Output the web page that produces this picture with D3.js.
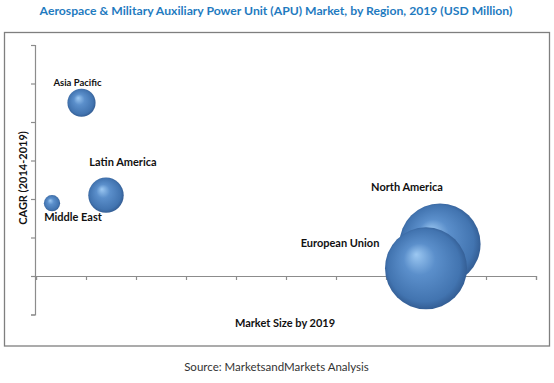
<!DOCTYPE html>
<html><head><meta charset="utf-8">
<script src="https://cdn.jsdelivr.net/npm/d3@7"></script>
<style>
body{margin:0;background:#fff;}
text{font-family:Lato,"Open Sans",sans-serif;}
</style></head>
<body><svg id="c" width="554" height="383"></svg>
<script>
const regions = ["Asia Pacific","Latin America","Middle East","North America","European Union"];
const marketSize = [0.91, 1.4, 0.32, 8.08, 7.8];
const cagr = [4.5, 2.1, 1.89, 0.83, 0.2];
const bubbleSize = [120, 190, 40, 1000, 1020];
const xTicks = d3.range(0, 11);
const yTicks = d3.range(-1, 7);

const labelOffset = {
  "Asia Pacific":[-4,-17,9.5],
  "Latin America":[17,-29,11],
  "Middle East":[21,18,11],
  "North America":[-33,-53,11],
  "European Union":[-86,-21,11]
};

const svg = d3.select("#c");
const defs = svg.append("defs");
const g = defs.append("radialGradient").attr("id","ball")
  .attr("cx","50%").attr("cy","50%").attr("r","55%")
  .attr("fx","38%").attr("fy","33%");
g.append("stop").attr("offset","0%").attr("stop-color","#9cc8f2");
g.append("stop").attr("offset","35%").attr("stop-color","#5b8fcb");
g.append("stop").attr("offset","80%").attr("stop-color","#4274b0");
g.append("stop").attr("offset","100%").attr("stop-color","#2c5286");

svg.append("rect").attr("x",4.5).attr("y",32.5).attr("width",545).attr("height",313.5)
  .attr("fill","none").attr("stroke","#7f7f7f").attr("stroke-width",1.3);

svg.append("text").attr("x",276).attr("y",15).attr("text-anchor","middle")
  .attr("fill","#1f7bbf").attr("font-weight","bold").attr("font-size",12.2)
  .text("Aerospace & Military Auxiliary Power Unit (APU) Market, by Region, 2019 (USD Million)");

const x = d3.scaleLinear().domain([0,10]).range([36,536]);
const y = d3.scaleLinear().domain([-1,6]).range([314.5,45]);
const r = d3.scaleSqrt().domain([0,1020]).range([0,41]);

const xAxis = svg.append("g").attr("transform",`translate(0,${y(0)})`)
  .call(d3.axisBottom(x).tickValues(xTicks).tickSize(4).tickFormat(""));
const yAxis = svg.append("g").attr("transform",`translate(${x(0)-1},0)`)
  .call(d3.axisLeft(y).tickValues(yTicks).tickSize(4).tickFormat(""));
[xAxis,yAxis].forEach(a=>{
  a.selectAll("path.domain").attr("stroke","#8c8c8c").attr("stroke-width",1.2);
  a.selectAll(".tick line").attr("stroke","#8c8c8c").attr("stroke-width",1.2);
});

const data = regions.map((n,i)=>({name:n,x:marketSize[i],y:cagr[i],s:bubbleSize[i]}));
svg.append("g").selectAll("circle").data(data).join("circle")
  .attr("cx",d=>x(d.x)).attr("cy",d=>y(d.y)).attr("r",d=>r(d.s))
  .attr("fill","url(#ball)");

svg.append("g").selectAll("text").data(data).join("text")
  .attr("x",d=>x(d.x)+labelOffset[d.name][0])
  .attr("y",d=>y(d.y)+labelOffset[d.name][1])
  .attr("font-size",d=>labelOffset[d.name][2])
  .attr("text-anchor","middle").attr("font-weight","bold").attr("fill","#111")
  .text(d=>d.name);

svg.append("text").attr("x",285).attr("y",327).attr("text-anchor","middle")
  .attr("font-weight","bold").attr("font-size",11).attr("fill","#111")
  .text("Market Size by 2019");

svg.append("text").attr("transform","translate(27,178) rotate(-90)").attr("text-anchor","middle")
  .attr("font-weight","bold").attr("font-size",11).attr("fill","#111")
  .text("CAGR (2014-2019)");

svg.append("text").attr("x",276.5).attr("y",371).attr("text-anchor","middle")
  .attr("font-size",11.5).attr("fill","#333")
  .text("Source: MarketsandMarkets Analysis");
</script></body></html>
